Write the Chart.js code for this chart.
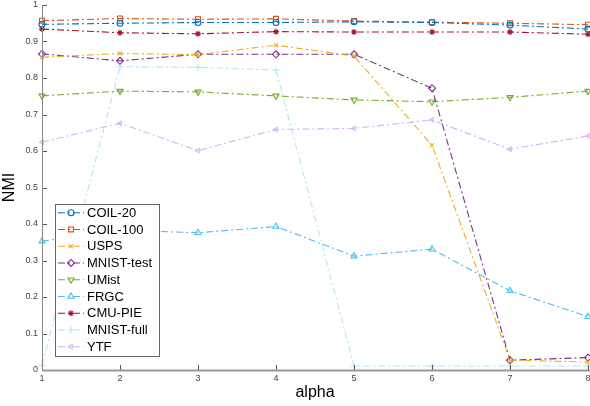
<!DOCTYPE html>
<html>
<head>
<meta charset="utf-8">
<script src="https://cdn.jsdelivr.net/npm/chart.js@4/dist/chart.umd.min.js"></script>
<style>
html,body{margin:0;padding:0;background:#fff;}
#wrap{width:590px;height:406px;position:relative;}
</style>
</head>
<body>
<div id="wrap"><canvas id="c" width="590" height="406"></canvas></div>
<script>
const alphas = [1, 2, 3, 4, 5, 6, 7, 8];
const yTicks = [0, 0.1, 0.2, 0.3, 0.4, 0.5, 0.6, 0.7, 0.8, 0.9, 1];
const seriesNames = ['COIL-20', 'COIL-100', 'USPS', 'MNIST-test', 'UMist', 'FRGC', 'CMU-PIE', 'MNIST-full', 'YTF'];
const coil20    = [0.947, 0.950, 0.952, 0.952, 0.954, 0.952, 0.945, 0.934];
const coil100   = [0.957, 0.963, 0.961, 0.962, 0.956, 0.953, 0.950, 0.946];
const usps      = [0.857, 0.867, 0.864, 0.890, 0.860, 0.616, 0.027, 0.022];
const mnistTest = [0.866, 0.847, 0.865, 0.865, 0.865, 0.772, 0.027, 0.034];
const umist     = [0.751, 0.764, 0.762, 0.751, 0.740, 0.735, 0.747, 0.764];
const frgc      = [0.353, 0.383, 0.376, 0.393, 0.312, 0.331, 0.217, 0.146];
const cmuPie    = [0.934, 0.924, 0.921, 0.927, 0.926, 0.926, 0.926, 0.920];
const mnistFull = [0.013, 0.831, 0.829, 0.822, 0.011, 0.011, 0.011, 0.011];
const ytf       = [0.624, 0.676, 0.601, 0.659, 0.662, 0.685, 0.605, 0.641];

const values = [coil20, coil100, usps, mnistTest, umist, frgc, cmuPie, mnistFull, ytf];
const colors = ['#0072BD', '#D95319', '#EDB120', '#7E2F8E', '#77AC30', '#4DBEEE', '#A2142F', '#B3E5F8', '#D6B2F8'];
const styles = ['circle', 'rect', 'crossRot', 'rectRot', 'triangle', 'triangle', 'star', 'cross', 'triangle'];
const rots   = [0, 0, 0, 0, 180, 0, 0, 0, -90];
const radii  = [3, 3.5, 3, 3.5, 3.5, 3.5, 3, 3.5, 2.5];
const dash = [7, 3, 2, 3];

const datasets = seriesNames.map((n, i) => ({
  label: n,
  data: values[i],
  borderColor: colors[i],
  backgroundColor: i === 6 ? colors[i] : 'rgba(255,255,255,0)',
  pointBorderColor: colors[i],
  pointBackgroundColor: i === 6 ? colors[i] : 'rgba(255,255,255,0)',
  borderWidth: 1.1,
  borderDash: dash,
  pointStyle: styles[i],
  rotation: rots[i],
  pointRadius: radii[i],
  pointBorderWidth: 1.1,
  tension: 0,
  fill: false,
  clip: false
}));

const inwardTicks = {
  id: 'inwardTicks',
  afterDraw(chart) {
    const ctx = chart.ctx, a = chart.chartArea;
    const xs = chart.scales.x, ys = chart.scales.y;
    ctx.save();
    ctx.strokeStyle = '#555';
    ctx.lineWidth = 1;
    ctx.beginPath();
    yTicks.forEach(v => {
      const y = Math.round(ys.getPixelForValue(v)) + 0.5;
      ctx.moveTo(a.left, y); ctx.lineTo(a.left + 5, y);
    });
    alphas.forEach((v, i) => {
      const x = Math.round(xs.getPixelForValue(i)) + 0.5;
      ctx.moveTo(x, a.bottom); ctx.lineTo(x, a.bottom - 5);
    });
    ctx.stroke();
    ctx.strokeStyle = '#999';
    ctx.lineWidth = 2;
    ctx.beginPath();
    ctx.moveTo(a.left, a.bottom + 0.5); ctx.lineTo(chart.width, a.bottom + 0.5);
    ctx.stroke();
    ctx.lineWidth = 1;
    ctx.strokeStyle = '#888';
    ctx.beginPath();
    ctx.moveTo(a.left + 0.5, a.top); ctx.lineTo(a.left + 0.5, a.bottom);
    ctx.stroke();
    ctx.restore();
  }
};

const boxLegend = {
  id: 'boxLegend',
  afterDraw(chart) {
    const ctx = chart.ctx;
    const bx = 55, by = 204, bw = 104, bh = 152;
    ctx.save();
    ctx.fillStyle = '#fff';
    ctx.fillRect(bx, by, bw, bh);
    ctx.strokeStyle = '#666';
    ctx.lineWidth = 1;
    ctx.strokeRect(bx + 0.5, by + 0.5, bw, bh);
    ctx.font = '13px "Liberation Sans", Arial, sans-serif';
    ctx.textBaseline = 'middle';
    ctx.fillStyle = '#000';
    datasets.forEach((d, i) => {
      const y = 212.7 + i * 16.75;
      ctx.save();
      ctx.strokeStyle = d.borderColor;
      ctx.lineWidth = 1.1;
      ctx.setLineDash(dash);
      ctx.beginPath();
      ctx.moveTo(58, y); ctx.lineTo(84, y);
      ctx.stroke();
      ctx.setLineDash([]);
      ctx.fillStyle = d.pointBackgroundColor;
      Chart.helpers.drawPoint(ctx, {pointStyle: d.pointStyle, rotation: d.rotation, radius: d.pointRadius, borderWidth: 1.1}, 71, y);
      ctx.restore();
      ctx.fillStyle = '#000';
      ctx.fillText(d.label, 87, y + 0.5);
    });
    ctx.restore();
  }
};

new Chart(document.getElementById('c'), {
  type: 'line',
  data: { labels: alphas, datasets },
  options: {
    responsive: false,
    animation: false,
    layout: { autoPadding: false, padding: { top: 5, right: 2, left: 0, bottom: 0 } },
    plugins: { legend: { display: false }, tooltip: { enabled: false } },
    scales: {
      x: {
        type: 'category',
        offset: false,
        grid: { display: false, drawTicks: false },
        border: { display: false },
        ticks: { color: '#444', font: { family: 'Liberation Sans, Arial', size: 9 }, padding: 3, maxRotation: 0, autoSkip: false },
        title: { display: true, text: 'alpha', color: '#000', font: { family: 'Liberation Sans, Arial', size: 16 }, padding: { top: 2, bottom: 4 } },
        afterFit(s) {
          s.height = 36; s.paddingRight = 0; s.paddingLeft = 0;
          s.getPadding = () => ({ left: 0, right: 0, top: 0, bottom: 0 });
        }
      },
      y: {
        min: 0, max: 1,
        afterBuildTicks(s) { s.ticks = yTicks.map(v => ({ value: v })); },
        grid: { display: false, drawTicks: false },
        border: { display: false },
        ticks: { color: '#444', font: { family: 'Liberation Sans, Arial', size: 9 }, padding: 4,
                 callback: v => String(Math.round(v * 10) / 10) },
        title: { display: true, text: 'NMI', color: '#000', font: { family: 'Liberation Sans, Arial', size: 16 }, padding: { top: 0, bottom: 0 } },
        afterFit(s) { s.width = 42; s.paddingTop = 0; s.paddingBottom = 0; }
      }
    }
  },
  plugins: [inwardTicks, boxLegend]
});
</script>
</body>
</html>
